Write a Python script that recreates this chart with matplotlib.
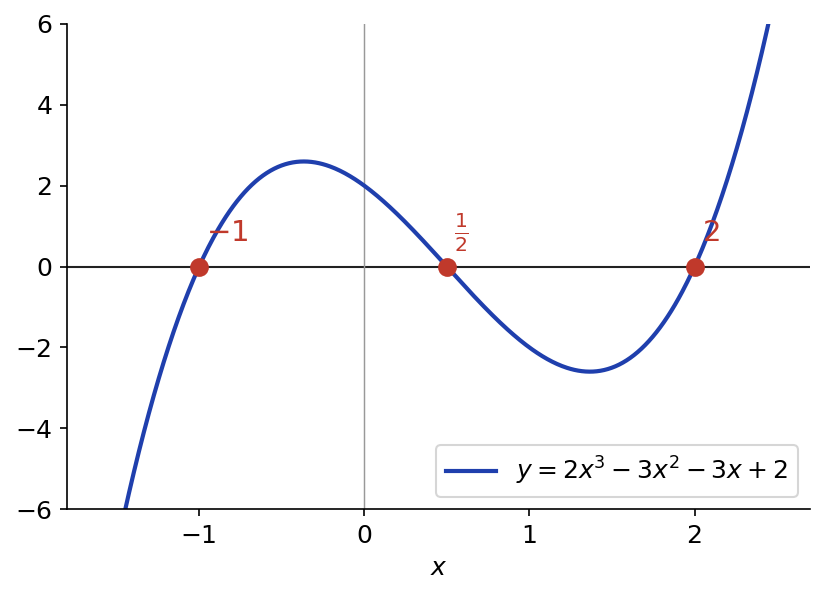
import numpy as np
import matplotlib.pyplot as plt

# polynomial y = 2x^3 - 3x^2 - 3x + 2
coeffs = [2, -3, -3, 2]
roots = [-1, 0.5, 2]
root_labels = [r'$-1$', r'$\frac{1}{2}$', r'$2$']
curve_label = r'$y = 2x^3 - 3x^2 - 3x + 2$'

x = np.linspace(-1.8, 2.7, 600)
y = np.polyval(coeffs, x)

fig = plt.figure(figsize=(5.5, 3.98), dpi=150)
ax = fig.add_axes([0.0812, 0.147, 0.9008, 0.813])

ax.axhline(0, color='#222222', lw=1.0, zorder=1)
ax.axvline(0, color='#999999', lw=0.7, zorder=1)
ax.plot(x, y, color='#1f3fad', lw=2.0, label=curve_label, zorder=2)
ax.plot(roots, [0] * len(roots), 'o', color='#c0392b', ms=8, zorder=3)

for r, lab in zip(roots, root_labels):
    ax.annotate(lab, (r, 0), xytext=(3.5, 12.5), textcoords='offset points',
                color='#c0392b', fontsize=14, ha='left', va='baseline')

ax.set_xlim(-1.8, 2.7)
ax.set_ylim(-6, 6)
ax.set_xticks([-1, 0, 1, 2])
ax.set_yticks([-6, -4, -2, 0, 2, 4, 6])
ax.tick_params(labelsize=12)
ax.set_xlabel(r'$x$', fontsize=12)
ax.spines['top'].set_visible(False)
ax.spines['right'].set_visible(False)
ax.legend(loc='lower right', fontsize=12)

fig.savefig('out.png', dpi=150)
